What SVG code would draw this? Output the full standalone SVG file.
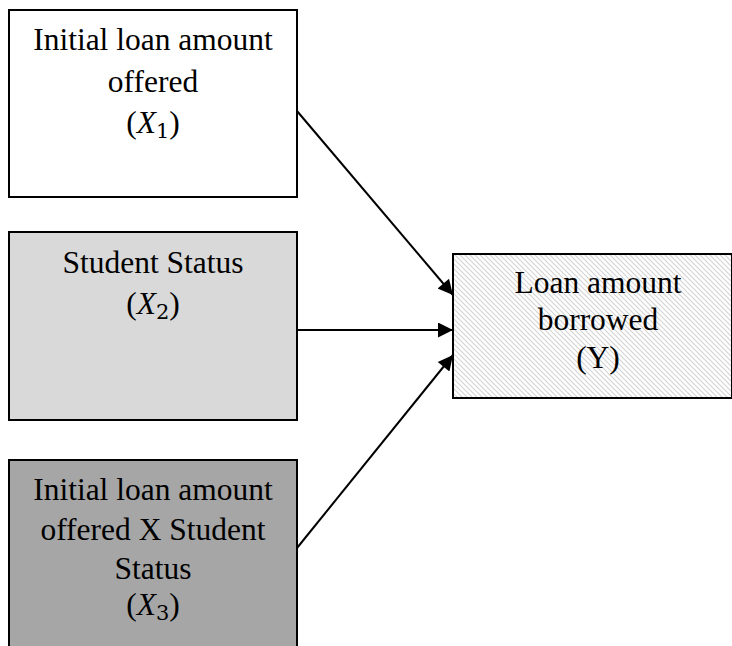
<svg xmlns="http://www.w3.org/2000/svg" width="732" height="646" viewBox="0 0 732 646">
<defs>
<pattern id="hatch" patternUnits="userSpaceOnUse" width="5" height="5">
<path d="M-1,-1 L6,6 M-1,4 L1,6 M4,-1 L6,1" stroke="#d4d4d4" stroke-width="1.2"/>
</pattern>
<marker id="arr" viewBox="0 0 10 10" refX="10" refY="5" markerWidth="17" markerHeight="15" markerUnits="userSpaceOnUse" orient="auto">
<path d="M0,0 L10,5 L0,10 Z" fill="#000"/>
</marker>
</defs>
<style>
.box{stroke:#000;stroke-width:2}
.t{font-family:"Liberation Serif","Times New Roman",serif;font-size:31.5px;fill:#000;text-anchor:middle}
.m{font-style:italic}
.s{font-family:"DejaVu Serif","Liberation Serif",serif;font-size:21px;font-style:normal}
.c{stroke:#000;stroke-width:2;fill:none}
</style>
<rect width="732" height="646" fill="#fff"/>
<g id="x1">
<rect class="box" x="9" y="10" width="288" height="187" fill="#fff"/>
<text class="t" x="153" y="50">Initial loan amount</text>
<text class="t" x="153" y="92">offered</text>
<text class="t" x="153" y="133">(<tspan class="m">X</tspan><tspan class="s" dy="5">1</tspan><tspan dy="-5">)</tspan></text>
</g>
<g id="x2">
<rect class="box" x="9" y="232" width="288" height="188" fill="#d9d9d9"/>
<text class="t" x="153" y="273">Student Status</text>
<text class="t" x="153" y="314">(<tspan class="m">X</tspan><tspan class="s" dy="5">2</tspan><tspan dy="-5">)</tspan></text>
</g>
<g id="x3">
<rect class="box" x="9" y="460" width="288" height="200" fill="#a6a6a6"/>
<text class="t" x="153" y="500">Initial loan amount</text>
<text class="t" x="153" y="540">offered X Student</text>
<text class="t" x="153" y="579">Status</text>
<text class="t" x="153" y="615">(<tspan class="m">X</tspan><tspan class="s" dy="5">3</tspan><tspan dy="-5">)</tspan></text>
</g>
<g id="y">
<rect class="box" x="453" y="254" width="279" height="144" fill="#fff"/>
<rect x="454" y="255" width="277" height="142" fill="url(#hatch)"/>
<text class="t" x="598" y="293">Loan amount</text>
<text class="t" x="598" y="330">borrowed</text>
<text class="t" x="598" y="368">(Y)</text>
</g>
<g id="connectors">
<line class="c" x1="297" y1="111" x2="453" y2="295" marker-end="url(#arr)"/>
<line class="c" x1="297" y1="330" x2="453" y2="330" marker-end="url(#arr)"/>
<line class="c" x1="297" y1="548" x2="453" y2="355" marker-end="url(#arr)"/>
</g>
</svg>
